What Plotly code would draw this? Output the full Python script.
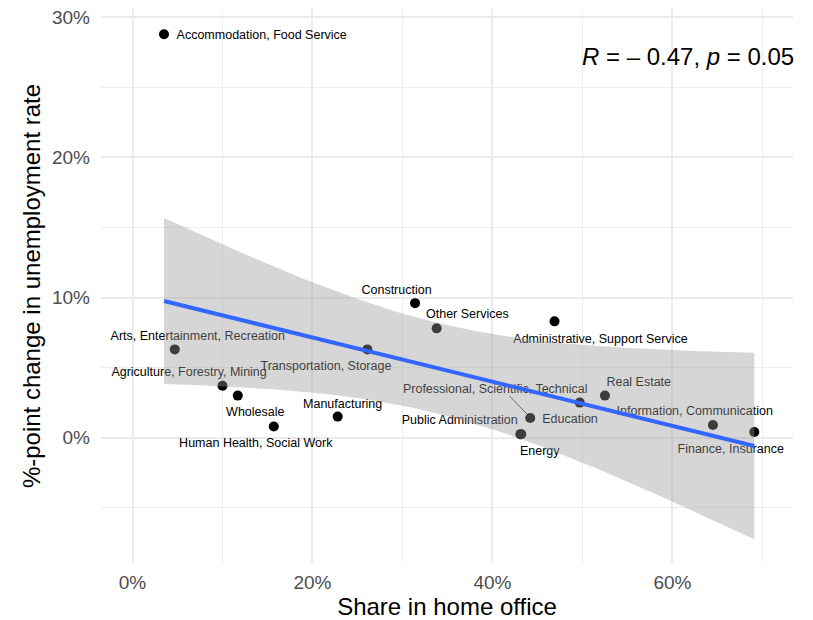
import numpy as np
import plotly.graph_objects as go

# Industry-level data: share working from home vs. change in unemployment rate
industries = [
    "Accommodation, Food Service", "Arts, Entertainment, Recreation",
    "Agriculture, Forestry, Mining", "Wholesale", "Human Health, Social Work",
    "Manufacturing", "Transportation, Storage", "Construction", "Other Services",
    "Administrative, Support Service", "Professional, Scientific, Technical",
    "Public Administration", "Energy", "Education", "Real Estate",
    "Information, Communication", "Finance, Insurance",
]
home_office = [3.5, 4.7, 10.0, 11.7, 15.7, 22.8, 26.1, 31.4, 33.8,
               46.9, 44.2, 43.1, 43.2, 49.7, 52.5, 64.5, 69.1]
unemp_change = [28.8, 6.3, 3.7, 3.0, 0.8, 1.5, 6.3, 9.6, 7.8,
                8.3, 1.4, 0.25, 0.25, 2.5, 3.0, 0.9, 0.4]

# Label placement offsets in screen pixels (dx right, dy down) from each point
label_offsets = [
    (97.7, 0), (23, -14.3), (-33.4, -14.3), (17.5, 15.3), (-18, 15.4),
    (5, -14), (-41.4, 15.7), (-18.5, -14.3), (30.7, -15), (46, 17),
    (-35, -30), (-60.6, -15.5), (18.5, 16.1), (-9.7, 15), (33.8, -14.7),
    (-18.2, -14.8), (-23.6, 15.6),
]
LABEL_BASELINE_NUDGE = 1.8  # px, text box vs. glyph centre
# leader segment for the label that sits away from its point
segment_label = "Professional, Scientific, Technical"
segment_offsets = ((-20.7, -22), (-3.3, -4))

stat_text = "<i>R</i> = \u2013 0.47, <i>p</i> = 0.05"

# Layout geometry
W, H = 813, 620
ML, MR, MT, MB = 101, 20, 9, 57
x_range = [-3.5, 73.4]
y_range = [-8.95, 30.6]
px_x = (W - ML - MR) / (x_range[1] - x_range[0])
px_y = (H - MT - MB) / (y_range[1] - y_range[0])

x = np.array(home_office)
y = np.array(unemp_change)
n = len(x)

# Linear fit with 95% confidence band (df = n - 2 = 15)
T_975 = 2.1314
slope, intercept = np.polyfit(x, y, 1)
resid = y - (slope * x + intercept)
s = np.sqrt(np.sum(resid ** 2) / (n - 2))
sxx = np.sum((x - x.mean()) ** 2)
xs = np.linspace(x.min(), x.max(), 80)
fit = slope * xs + intercept
se = s * np.sqrt(1 / n + (xs - x.mean()) ** 2 / sxx)
upper = fit + T_975 * se
lower = fit - T_975 * se

FONT = "Liberation Sans, Arial, sans-serif"

fig = go.Figure()

# points
fig.add_trace(go.Scatter(
    x=x, y=y, mode="markers",
    marker=dict(size=10, color="black", line=dict(width=0)),
    hoverinfo="skip", showlegend=False,
))

# leader segment
i_seg = industries.index(segment_label)
(sx0, sy0), (sx1, sy1) = segment_offsets
fig.add_trace(go.Scatter(
    x=[x[i_seg] + sx0 / px_x, x[i_seg] + sx1 / px_x],
    y=[y[i_seg] - sy0 / px_y, y[i_seg] - sy1 / px_y],
    mode="lines", line=dict(color="black", width=0.7),
    hoverinfo="skip", showlegend=False,
))

# labels
lx = [x[i] + dx / px_x for i, (dx, dy) in enumerate(label_offsets)]
ly = [y[i] - (dy + LABEL_BASELINE_NUDGE) / px_y
      for i, (dx, dy) in enumerate(label_offsets)]
fig.add_trace(go.Scatter(
    x=lx, y=ly, mode="text", text=industries,
    textposition="middle center",
    textfont=dict(family=FONT, size=12.5, color="black"),
    hoverinfo="skip", showlegend=False,
))

# confidence band
fig.add_trace(go.Scatter(
    x=np.concatenate([xs, xs[::-1]]),
    y=np.concatenate([upper, lower[::-1]]),
    fill="toself", fillcolor="rgba(153,153,153,0.4)",
    line=dict(width=0), mode="lines",
    hoverinfo="skip", showlegend=False,
))

# regression line
fig.add_trace(go.Scatter(
    x=xs, y=fit, mode="lines",
    line=dict(color="#3366FF", width=4),
    hoverinfo="skip", showlegend=False,
))

fig.add_annotation(
    text=stat_text, xref="paper", yref="y", x=1.0, y=27.2,
    xanchor="right", yanchor="middle", showarrow=False, xshift=3,
    font=dict(family=FONT, size=24, color="black"),
)

grid_major = dict(showgrid=True, gridcolor="#EBEBEB", gridwidth=2)
minor_grid = dict(showgrid=True, gridcolor="#EEEEEE", gridwidth=1.3)

fig.update_xaxes(
    range=x_range, tick0=0, dtick=20, ticksuffix="%",
    **grid_major, minor=dict(dtick=10, **minor_grid),
    zeroline=False, showline=False, ticks="",
    tickfont=dict(family=FONT, size=19, color="#4D4D4D"),
    ticklabelstandoff=6,
    title=dict(text="Share in home office",
               font=dict(family=FONT, size=24, color="black"), standoff=6),
)
fig.update_yaxes(
    range=y_range, tick0=0, dtick=10, ticksuffix="%",
    **grid_major, minor=dict(dtick=5, **minor_grid),
    zeroline=False, showline=False, ticks="",
    tickfont=dict(family=FONT, size=19, color="#4D4D4D"),
    ticklabelstandoff=10,
    title=dict(text="%-point change in unemployment rate",
               font=dict(family=FONT, size=24, color="black"), standoff=4),
)

fig.update_layout(
    width=W, height=H,
    margin=dict(l=ML, r=MR, t=MT, b=MB, autoexpand=False),
    paper_bgcolor="white", plot_bgcolor="white",
    showlegend=False,
)

fig.write_html("out.html")
